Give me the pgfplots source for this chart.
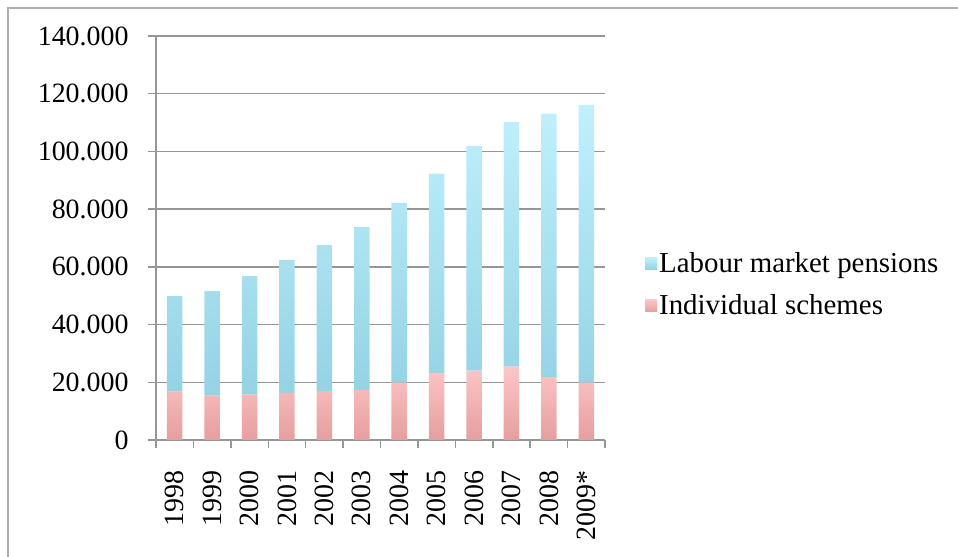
\documentclass[border=0pt]{standalone}
\usepackage{fontspec}
\setmainfont{Liberation Serif}
\usepackage{pgfplots}
\pgfplotsset{compat=1.18}
\definecolor{bluetop}{RGB}{192,241,252}
\definecolor{bluebot}{RGB}{148,210,228}
\definecolor{pinktop}{RGB}{252,198,198}
\definecolor{pinkbot}{RGB}{230,158,158}
\definecolor{gridgray}{RGB}{150,150,150}
\definecolor{framegray}{RGB}{175,175,175}
\begin{document}
\begin{tikzpicture}
\path[use as bounding box] (0bp,0bp) rectangle (958bp,557bp);
\draw[color=framegray, line width=2.5bp] (8bp,0bp) -- (8bp,549bp) -- (958bp,549bp);
\begin{axis}[
  at={(156bp,117bp)}, anchor=south west,
  scale only axis, width=449bp, height=404bp,
  ybar stacked, bar width=15.5bp,
  ymin=0, ymax=140000, xmin=-0.5, xmax=11.5,
  scaled y ticks=false,
  ytick={0,20000,40000,60000,80000,100000,120000,140000},
  yticklabels={0,20.000,40.000,60.000,80.000,100.000,120.000,140.000},
  xtick={0,...,11},
  xticklabels={1998,1999,2000,2001,2002,2003,2004,2005,2006,2007,2008,2009*},
  minor xtick={-0.5,0.5,...,11.5},
  every major x tick/.append style={draw=none},
  tick align=outside,
  major tick length=8bp, minor tick length=8bp,
  tick style={gridgray, line width=1.5bp},
  axis x line*=bottom, axis y line*=left,
  axis line style={gridgray, line width=1.5bp, -},
  ymajorgrids, grid style={gridgray, line width=1.5bp},
  yticklabel style={font=\fontsize{28}{30}\selectfont, xshift=-16bp},
  xticklabel style={font=\fontsize{28}{30}\selectfont, rotate=90, anchor=east, xshift=-19bp},
  reverse legend,
  legend cell align=left,
  legend style={at={(1.089,0.385)}, anchor=west, draw=none, fill=none,
    font=\fontsize{29}{31}\selectfont, row sep=17bp, inner sep=0pt,
    /tikz/every even column/.append style={column sep=8bp}},
  legend image code/.code={\fill[#1] (0bp,-6bp) rectangle (12bp,6bp);},
]
\addplot[draw=none, top color=pinktop, bottom color=pinkbot] coordinates {
(0,16800) (1,15400) (2,15700) (3,16300) (4,16900) (5,17400)
(6,19900) (7,23300) (8,24000) (9,25400) (10,21800) (11,19900)};
\addlegendentry{Individual schemes}
\addplot[draw=none, top color=bluetop, bottom color=bluebot] coordinates {
(0,33100) (1,36200) (2,41100) (3,46100) (4,50600) (5,56400)
(6,62300) (7,69000) (8,77900) (9,84800) (10,91300) (11,96200)};
\addlegendentry{Labour market pensions}
\end{axis}
\end{tikzpicture}
\end{document}
